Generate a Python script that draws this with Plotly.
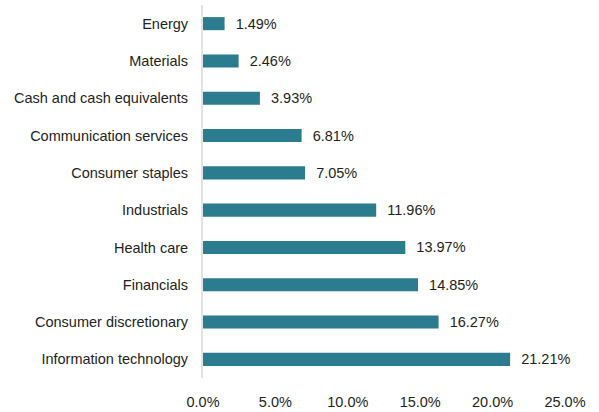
import plotly.graph_objects as go

categories = ["Energy", "Materials", "Cash and cash equivalents", "Communication services",
              "Consumer staples", "Industrials", "Health care", "Financials",
              "Consumer discretionary", "Information technology"]
values = [1.49, 2.46, 3.93, 6.81, 7.05, 11.96, 13.97, 14.85, 16.27, 21.21]
tick_vals = [0, 5, 10, 15, 20, 25]
tick_text = ["0.0%", "5.0%", "10.0%", "15.0%", "20.0%", "25.0%"]

FONT = "Liberation Sans, Arial, sans-serif"
TXT = "#231f20"

fig = go.Figure(go.Bar(
    x=values, y=categories, orientation="h",
    marker=dict(color="#2a7c8e", line=dict(width=0)),
    width=0.35,
    text=["\u00a0\u00a0" + f"{v:.2f}%" for v in values],
    textposition="outside",
    constraintext="none",
    textfont=dict(size=14.5, color=TXT, family=FONT),
    cliponaxis=False,
))

fig.update_layout(
    width=599, height=412,
    margin=dict(l=203, r=34, t=5, b=34, autoexpand=False),
    plot_bgcolor="white", paper_bgcolor="white",
    font=dict(family=FONT, size=14.5, color=TXT),
    showlegend=False,
    xaxis=dict(range=[0, 25], tickvals=tick_vals, ticktext=tick_text,
               showgrid=False, zeroline=False, showline=False,
               ticks="", ticklabelstandoff=13, automargin=False,
               tickfont=dict(size=14.5, family=FONT, color=TXT)),
    yaxis=dict(autorange="reversed", showgrid=False, zeroline=False,
               showline=True, linecolor="#e3e3e3", linewidth=2,
               ticks="", ticklabelstandoff=10, automargin=False,
               tickfont=dict(size=14.5, family=FONT, color=TXT)),
)

fig.write_html("out.html")
